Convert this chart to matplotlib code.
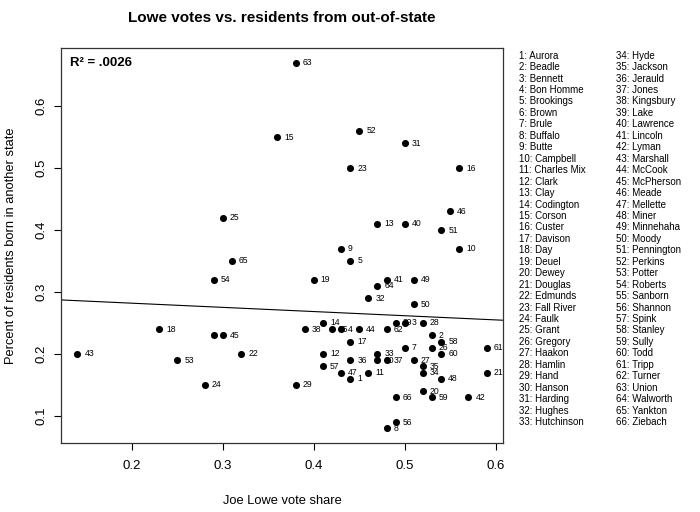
import numpy as np
import matplotlib
matplotlib.use("Agg")
import matplotlib.pyplot as plt

plt.rcParams['font.family'] = ['Liberation Sans', 'DejaVu Sans']

counties = ["Aurora", "Beadle", "Bennett", "Bon Homme", "Brookings", "Brown", "Brule",
            "Buffalo", "Butte", "Campbell", "Charles Mix", "Clark", "Clay", "Codington",
            "Corson", "Custer", "Davison", "Day", "Deuel", "Dewey", "Douglas", "Edmunds",
            "Fall River", "Faulk", "Grant", "Gregory", "Haakon", "Hamlin", "Hand", "Hanson",
            "Harding", "Hughes", "Hutchinson", "Hyde", "Jackson", "Jerauld", "Jones",
            "Kingsbury", "Lake", "Lawrence", "Lincoln", "Lyman", "Marshall", "McCook",
            "McPherson", "Meade", "Mellette", "Miner", "Minnehaha", "Moody", "Pennington",
            "Perkins", "Potter", "Roberts", "Sanborn", "Shannon", "Spink", "Stanley",
            "Sully", "Todd", "Tripp", "Turner", "Union", "Walworth", "Yankton", "Ziebach"]

lowe_share = [0.44, 0.53, 0.50, 0.43, 0.44, 0.29, 0.50, 0.48, 0.43, 0.56,
              0.46, 0.41, 0.47, 0.41, 0.36, 0.56, 0.44, 0.23, 0.40, 0.52,
              0.59, 0.32, 0.44, 0.28, 0.30, 0.53, 0.51, 0.52, 0.38, 0.47,
              0.50, 0.46, 0.47, 0.52, 0.52, 0.44, 0.48, 0.39, 0.49, 0.50,
              0.48, 0.57, 0.14, 0.45, 0.30, 0.55, 0.43, 0.54, 0.51, 0.51,
              0.54, 0.45, 0.25, 0.29, 0.42, 0.49, 0.41, 0.54, 0.53, 0.54,
              0.59, 0.48, 0.38, 0.47, 0.31, 0.49]

out_of_state = [0.16, 0.23, 0.25, 0.24, 0.35, 0.23, 0.21, 0.08, 0.37, 0.37,
                0.17, 0.20, 0.41, 0.25, 0.55, 0.50, 0.22, 0.24, 0.32, 0.14,
                0.17, 0.20, 0.50, 0.15, 0.42, 0.21, 0.19, 0.25, 0.15, 0.19,
                0.54, 0.29, 0.20, 0.17, 0.18, 0.19, 0.19, 0.24, 0.25, 0.41,
                0.32, 0.13, 0.20, 0.24, 0.23, 0.43, 0.17, 0.16, 0.32, 0.28,
                0.40, 0.56, 0.19, 0.32, 0.24, 0.09, 0.18, 0.22, 0.13, 0.20,
                0.21, 0.24, 0.67, 0.31, 0.35, 0.13]

x_ticks = [0.2, 0.3, 0.4, 0.5, 0.6]
y_ticks = [0.1, 0.2, 0.3, 0.4, 0.5, 0.6]

x = np.array(lowe_share)
y = np.array(out_of_state)
ids = [str(i + 1) for i in range(len(counties))]

fig = plt.figure(figsize=(7.0, 5.12), dpi=100)
ax = fig.add_axes([61 / 700, 1 - 443 / 512, 442 / 700, 395 / 512])

ax.scatter(x, y, s=26, color='black', zorder=3, linewidths=0)
for xi, yi, lab in zip(x, y, ids):
    ax.annotate(lab, (xi, yi), xytext=(7, 0), textcoords='offset pixels',
                fontsize=6.2, va='center', ha='left', zorder=2)

# R-style 4% padding
xr = x.max() - x.min()
yr = y.max() - y.min()
ax.set_xlim(x.min() - 0.04 * xr, x.max() + 0.04 * xr)
ax.set_ylim(y.min() - 0.04 * yr, y.max() + 0.04 * yr)

slope, intercept = np.polyfit(x, y, 1)
xl = np.array(ax.get_xlim())
ax.plot(xl, intercept + slope * xl, color='black', lw=0.8, zorder=1)

ax.set_xticks(x_ticks)
ax.set_xticklabels([f"{t:.1f}" for t in x_ticks])
ax.set_yticks(y_ticks)
ax.set_yticklabels([f"{t:.1f}" for t in y_ticks], rotation=90, va='center')
ax.tick_params(axis='both', direction='out', length=5, width=0.8, labelsize=9.5)
ax.tick_params(axis='x', pad=7)
ax.tick_params(axis='y', pad=5)
for sp in ax.spines.values():
    sp.set_linewidth(0.9)
    sp.set_color('#333333')

ax.set_xlabel("Joe Lowe vote share", fontsize=9.3, labelpad=17)
ax.set_ylabel("Percent of residents born in another state", fontsize=9.3, labelpad=13)

ax.text(0.02, 0.963, "R² = .0026", transform=ax.transAxes, fontsize=9.5,
        fontweight='bold', va='center', ha='left')

fig.text(282 / 700, 1 - 18 / 512, "Lowe votes vs. residents from out-of-state",
         fontsize=11, fontweight='bold', ha='center', va='center')

# County key
n_col1 = 33
for i, name in enumerate(counties):
    col = 0 if i < n_col1 else 1
    row = i if i < n_col1 else i - n_col1
    fx = (519 if col == 0 else 616) / 700
    fy = 1 - (55.7 + row * 11.45) / 512
    fig.text(fx, fy, f"{i + 1}: {name}", fontsize=7.0, ha='left', va='center')

fig.savefig("out.png", dpi=100)
